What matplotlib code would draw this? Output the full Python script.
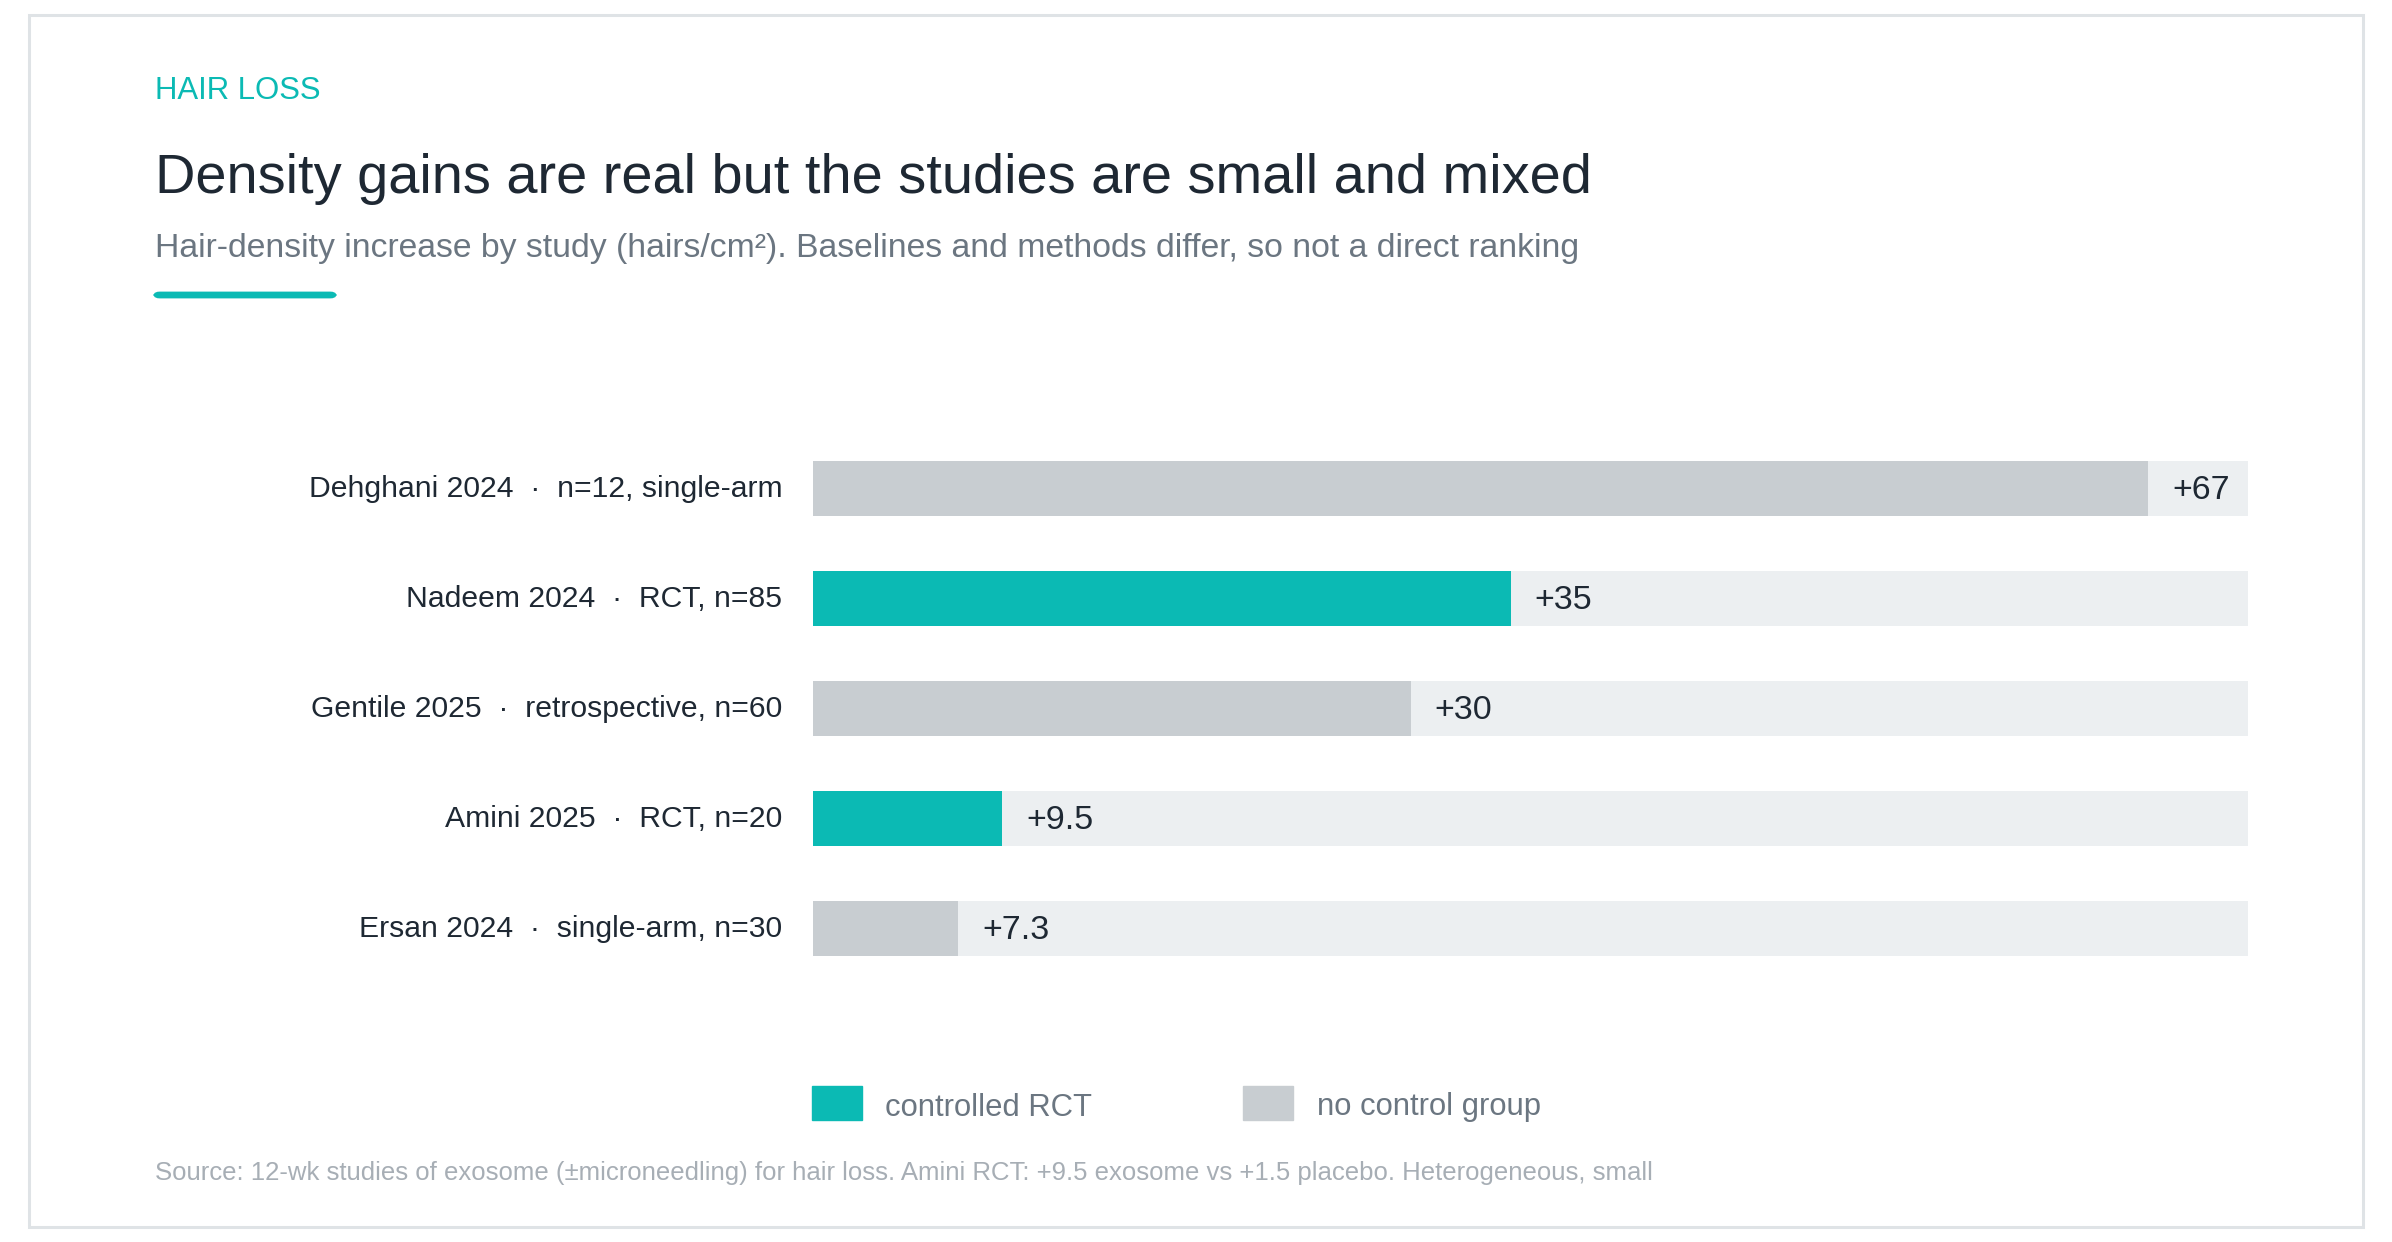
import matplotlib.pyplot as plt
from matplotlib.patches import Rectangle, FancyBboxPatch

plt.rcParams['font.family'] = ['Liberation Sans', 'DejaVu Sans']

# Daten
studies = ["Dehghani 2024", "Nadeem 2024", "Gentile 2025", "Amini 2025", "Ersan 2024"]
details = ["n=12, single-arm", "RCT, n=85", "retrospective, n=60", "RCT, n=20", "single-arm, n=30"]
gains = [67, 35, 30, 9.5, 7.3]
gain_labels = ["+67", "+35", "+30", "+9.5", "+7.3"]
controlled = [False, True, False, True, False]
track_max = 72

TEAL = "#0bbab4"
GREY = "#c8cdd1"
TRACK = "#eceff1"
DARK = "#1e2833"
MUTED = "#6b7681"

W, H = 2392, 1242
fig = plt.figure(figsize=(W / 100, H / 100), dpi=100)
fig.patch.set_facecolor("white")

def fx(px):
    return px / W

def fy(py):
    return 1 - py / H

# Rahmen
fig.patches.append(Rectangle((fx(29), fy(1227)), fx(2363 - 29), (1227 - 15) / H,
                             transform=fig.transFigure, fill=False,
                             edgecolor="#dfe3e6", linewidth=2.2))

# Kopf
fig.text(fx(155), fy(99), "HAIR LOSS", color=TEAL, fontsize=22.4, va="baseline")
fig.text(fx(155), fy(193), "Density gains are real but the studies are small and mixed",
         color=DARK, fontsize=40.3, va="baseline")
fig.text(fx(155), fy(257),
         "Hair-density increase by study (hairs/cm²). Baselines and methods differ, so not a direct ranking",
         color=MUTED, fontsize=24.3, va="baseline")
fig.patches.append(FancyBboxPatch((fx(155), fy(297)), fx(180), 4 / H,
                                  boxstyle="round,pad=0,rounding_size=0.002",
                                  transform=fig.transFigure, facecolor=TEAL,
                                  edgecolor=TEAL, linewidth=2))

# Balken
top, bottom = 433.5, 983.5
ax = fig.add_axes([fx(813), fy(bottom), fx(2248 - 813), (bottom - top) / H])
ypos = list(range(len(studies)))
ax.barh(ypos, [track_max] * len(studies), height=0.5, color=TRACK, zorder=1)
colors = [TEAL if c else GREY for c in controlled]
ax.barh(ypos, gains, height=0.5, color=colors, zorder=2)
for y, g, lab in zip(ypos, gains, gain_labels):
    ax.annotate(lab, (g, y), xytext=(17, 1.2), textcoords="offset points",
                va="center_baseline", ha="left", fontsize=24.5, color=DARK, zorder=3)
for y, s, d in zip(ypos, studies, details):
    ax.annotate(f"{s}  ·  {d}", (0, y), xytext=(-22, 1.5), textcoords="offset points",
                va="center_baseline", ha="right", fontsize=21.7, color=DARK,
                annotation_clip=False)

ax.set_xlim(0, track_max)
ax.set_ylim(len(studies) - 0.5, -0.5)
ax.set_xticks([])
ax.set_yticks([])
for sp in ax.spines.values():
    sp.set_visible(False)

# Legende
fig.patches.append(Rectangle((fx(812), fy(1120)), fx(50), 34 / H,
                             transform=fig.transFigure, color=TEAL))
fig.text(fx(885), fy(1104), "controlled RCT", color=MUTED, fontsize=22.3, va="center_baseline")
fig.patches.append(Rectangle((fx(1243), fy(1120)), fx(50), 34 / H,
                             transform=fig.transFigure, color=GREY))
fig.text(fx(1317), fy(1104), "no control group", color=MUTED, fontsize=22.3, va="center_baseline")

# Quelle
fig.text(fx(155), fy(1180),
         "Source: 12-wk studies of exosome (±microneedling) for hair loss. Amini RCT: +9.5 exosome vs +1.5 placebo. Heterogeneous, small",
         color="#a7aeb5", fontsize=18.5, va="baseline")

fig.savefig("out.png", dpi=100)
